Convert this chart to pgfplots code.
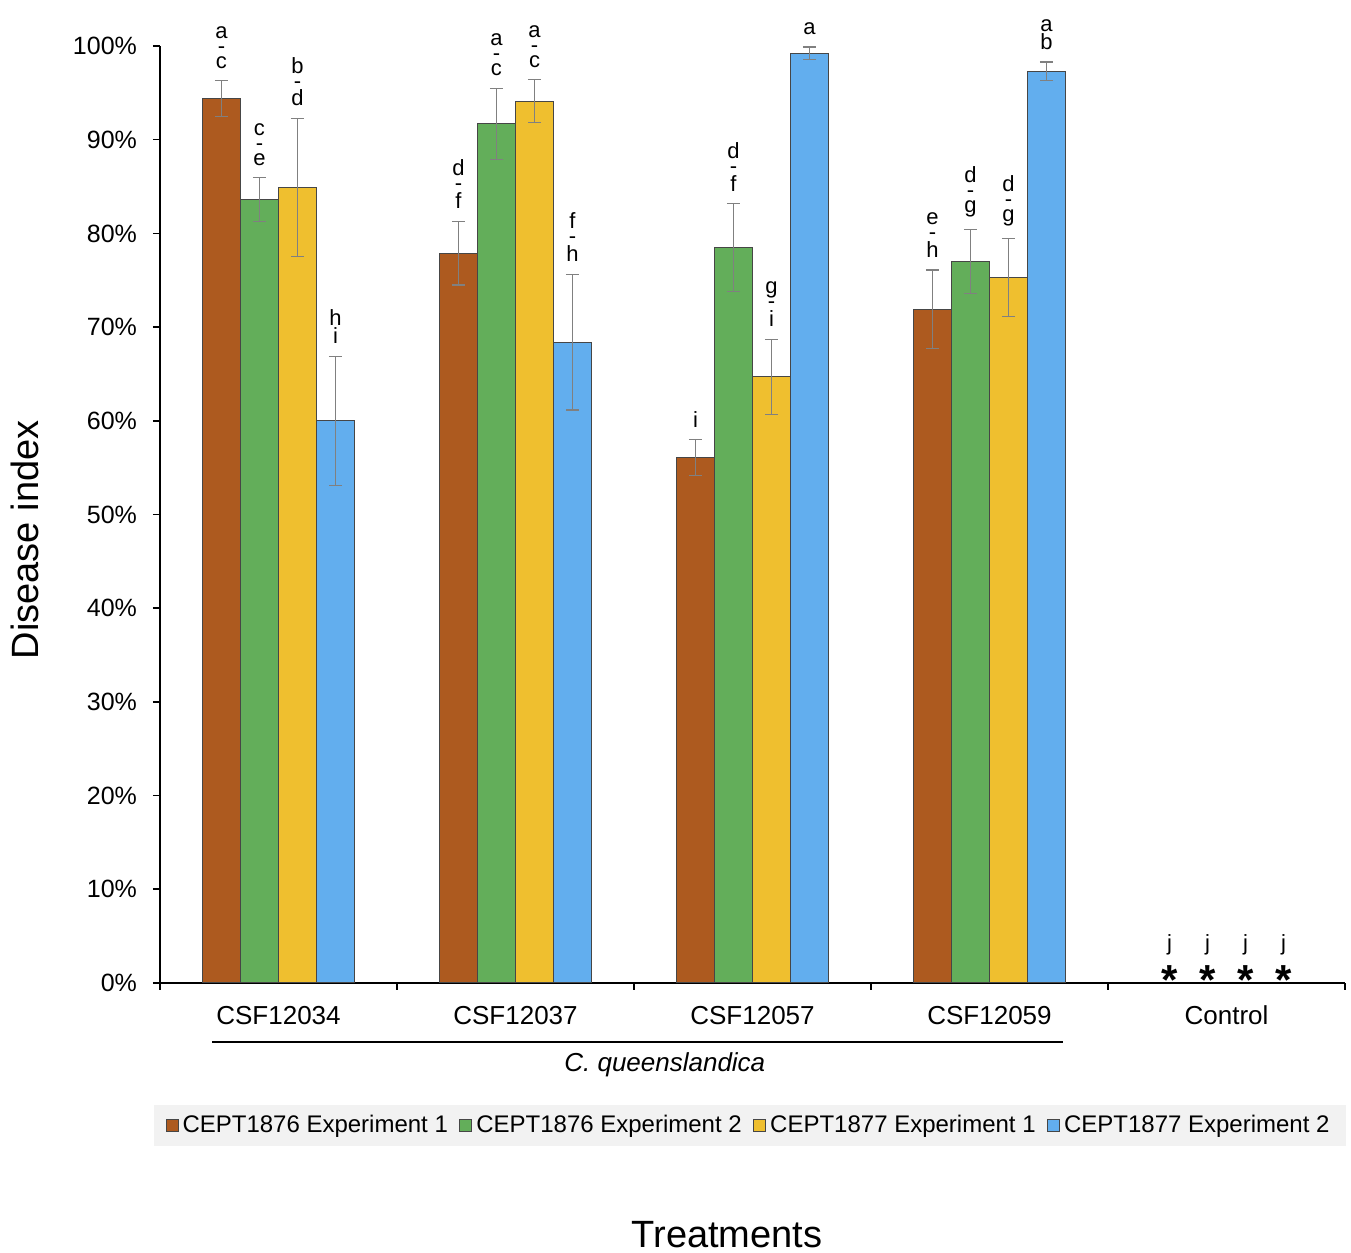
\documentclass[border=0pt]{standalone}
\usepackage{fontspec}
\setmainfont{Liberation Sans}
\usepackage{pgfplots}
\pgfplotsset{compat=1.18}
\definecolor{cbrown}{RGB}{173,90,31}
\definecolor{cgreen}{RGB}{99,174,90}
\definecolor{cyellow}{RGB}{239,191,47}
\definecolor{cblue}{RGB}{98,174,238}
\definecolor{barline}{RGB}{70,70,70}
\definecolor{legbg}{RGB}{242,242,242}
\newcommand\stk[2]{#1\\-\\#2}
\newcommand\two[2]{#1\\#2}
\pgfplotsset{
  sqleg/.style={legend image code/.code={\draw[##1] (0pt,-3pt) rectangle (6pt,3pt);}},
  errplot/.style={draw=none, mark=none, forget plot,
    error bars/y dir=both, error bars/y explicit,
    error bars/error bar style={line width=0.6pt, draw=gray, solid},
    error bars/error mark options={rotate=90, mark size=3.3pt, line width=0.6pt, draw=gray, solid}},
}
\begin{document}
\begin{tikzpicture}
\useasboundingbox (-80pt,-135pt) rectangle (595.5pt,491.5pt);
\begin{axis}[
  at={(0,0)}, anchor=south west,
  width=592.5pt, height=468.5pt, scale only axis,
  clip=false,
  xmin=-0.5, xmax=4.5, ymin=0, ymax=100,
  axis x line*=bottom, axis y line*=left,
  axis line style={line width=1pt, black},
  xtick={-0.5,0.5,1.5,2.5,3.5,4.5},
  x tick label as interval,
  xticklabels={CSF12034,CSF12037,CSF12057,CSF12059,Control},
  xticklabel style={font=\fontsize{13}{15}\selectfont, yshift=-4.5pt},
  ytick={0,10,...,100},
  yticklabel={\pgfmathprintnumber{\tick}\%},
  yticklabel style={font=\fontsize{12.5}{15}\selectfont, xshift=-4.5pt},
  /pgf/number format/assume math mode=true,
  tick align=outside, major tick length=3.5pt,
  tick style={line width=0.8pt, black},
  xtick pos=bottom, ytick pos=left,
  legend columns=4,
  legend style={at={(0.4975,0)}, anchor=center, yshift=-71.25pt,
    fill=legbg, draw=none, font=\fontsize{12}{14}\selectfont,
    inner xsep=6pt, inner ysep=3pt,
    /tikz/every odd column/.append style={column sep=0pt},
    /tikz/every even column/.append style={column sep=3.7pt}},
  legend cell align=left,
]
\addplot[ybar, bar width=19pt, bar shift=-28.5pt, fill=cbrown, draw=barline, line width=0.5pt, sqleg] coordinates {
  (0,94.4) (1,77.9) (2,56.1) (3,71.9)};
\addlegendentry{CEPT1876 Experiment 1}
\addplot[ybar, bar width=19pt, bar shift=-9.5pt, fill=cgreen, draw=barline, line width=0.5pt, sqleg] coordinates {
  (0,83.6) (1,91.7) (2,78.5) (3,77.0)};
\addlegendentry{CEPT1876 Experiment 2}
\addplot[ybar, bar width=19pt, bar shift=9.5pt, fill=cyellow, draw=barline, line width=0.5pt, sqleg] coordinates {
  (0,84.9) (1,94.1) (2,64.7) (3,75.3)};
\addlegendentry{CEPT1877 Experiment 1}
\addplot[ybar, bar width=19pt, bar shift=28.5pt, fill=cblue, draw=barline, line width=0.5pt, sqleg] coordinates {
  (0,60.0) (1,68.4) (2,99.25) (3,97.3)};
\addlegendentry{CEPT1877 Experiment 2}
% error bars at the bar centres (bar offsets: 0.2405 and 0.0802 category units)
\addplot[errplot] coordinates {
  (-0.2405,94.4) +- (0,1.9) (0.7595,77.9) +- (0,3.4) (1.7595,56.1) +- (0,1.9) (2.7595,71.9) +- (0,4.2)};
\addplot[errplot] coordinates {
  (-0.0802,83.6) +- (0,2.35) (0.9198,91.7) +- (0,3.8) (1.9198,78.5) +- (0,4.7) (2.9198,77.0) +- (0,3.45)};
\addplot[errplot] coordinates {
  (0.0802,84.9) +- (0,7.35) (1.0802,94.1) +- (0,2.3) (2.0802,64.7) +- (0,4.0) (3.0802,75.3) +- (0,4.15)};
\addplot[errplot] coordinates {
  (0.2405,60.0) +- (0,6.9) (1.2405,68.4) +- (0,7.25) (2.2405,99.25) +- (0,0.65) (3.2405,97.3) +- (0,1.0)};
% letter groups at the top of each error bar
\addplot[draw=none, mark=none, forget plot,
  nodes near coords={\pgfplotspointmeta}, point meta=explicit symbolic,
  every node near coord/.append style={anchor=south, inner sep=0pt, yshift=6pt, align=center,
      font=\fontsize{11}{7.5}\selectfont}]
  coordinates {
  (-0.2405,96.3)[\stk{a}{c}] (0.7595,81.3)[\stk{d}{f}] (1.7595,58.0)[i] (2.7595,76.1)[\stk{e}{h}]
  (-0.0802,85.95)[\stk{c}{e}] (0.9198,95.5)[\stk{a}{c}] (1.9198,83.2)[\stk{d}{f}] (2.9198,80.45)[\stk{d}{g}]
  (0.0802,92.25)[\stk{b}{d}] (1.0802,96.4)[\stk{a}{c}] (2.0802,68.7)[\stk{g}{i}] (3.0802,79.45)[\stk{d}{g}]
  (0.2405,66.9)[\two{h}{i}] (1.2405,75.65)[\stk{f}{h}] (2.2405,99.9)[a] (3.2405,98.3)[\two{a}{b}]
  };
% control
\addplot[draw=none, mark=none, forget plot,
  nodes near coords={\pgfplotspointmeta}, point meta=explicit symbolic,
  every node near coord/.append style={anchor=base, inner sep=0pt, yshift=16pt, font=\fontsize{11}{13}\selectfont}]
  coordinates {(3.7595,0)[j] (3.9198,0)[j] (4.0802,0)[j] (4.2405,0)[j]};
\addplot[draw=none, mark=none, forget plot,
  nodes near coords={\textbf{*}}, point meta=explicit symbolic,
  every node near coord/.append style={anchor=base, inner sep=0pt, yshift=-5.5pt, font=\fontsize{21}{24}\selectfont}]
  coordinates {(3.7595,0)[s] (3.9198,0)[s] (4.0802,0)[s] (4.2405,0)[s]};
\draw[line width=0.7pt] ([yshift=-29.5pt]axis cs:-0.28,0) -- ([yshift=-29.5pt]axis cs:3.31,0);
\node[font=\fontsize{13}{15}\selectfont\itshape] at ([yshift=-41pt]axis cs:1.63,0) {C. queenslandica};
\node[rotate=90, font=\fontsize{19}{22}\selectfont] at ([xshift=-67.5pt]rel axis cs:0,0.473) {Disease index};
\node[font=\fontsize{19}{22}\selectfont] at ([yshift=-126pt]rel axis cs:0.4785,0) {Treatments};
\end{axis}
\end{tikzpicture}
\end{document}
